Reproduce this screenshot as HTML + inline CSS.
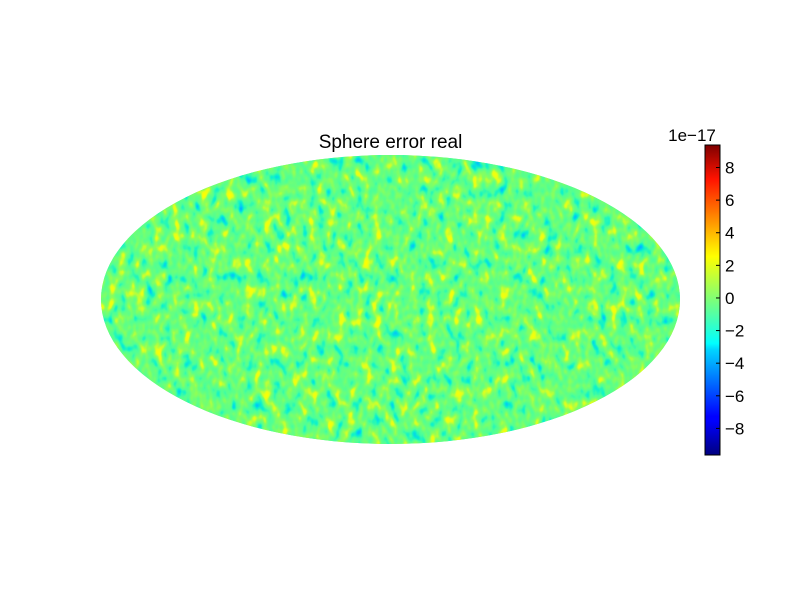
<!DOCTYPE html>
<html><head><meta charset="utf-8"><style>
body{margin:0;background:#fff;}
svg{display:block;font-family:"Liberation Sans","DejaVu Sans",sans-serif;}
</style></head><body>
<svg width="800" height="600" viewBox="0 0 800 600" xmlns="http://www.w3.org/2000/svg">
<defs>
<linearGradient id="jet" x1="0" y1="1" x2="0" y2="0">
<stop offset="0" stop-color="#00007f"/><stop offset="0.11" stop-color="#0000ff"/>
<stop offset="0.125" stop-color="#0000ff"/><stop offset="0.34" stop-color="#00d5ff"/>
<stop offset="0.36" stop-color="#0ff"/><stop offset="0.5" stop-color="#7cff79"/>
<stop offset="0.64" stop-color="#ff0"/><stop offset="0.66" stop-color="#fe0"/>
<stop offset="0.89" stop-color="#ff1300"/><stop offset="1" stop-color="#7f0000"/>
</linearGradient>
<clipPath id="ell"><ellipse cx="390.5" cy="299.5" rx="289.5" ry="144.5"/></clipPath>
<filter id="noise" x="0" y="0" width="100%" height="100%" color-interpolation-filters="sRGB">
<feTurbulence type="fractalNoise" baseFrequency="0.11 0.07" numOctaves="2" seed="7"/>
<feColorMatrix type="matrix" values="1 0 0 0 0  1 0 0 0 0  1 0 0 0 0  0 0 0 0 1"/>
<feComponentTransfer>
<feFuncR type="table" tableValues="0 0 0.05 0.3 0.4 0.55 0.9 1 1"/>
<feFuncG type="table" tableValues="0.45 0.75 0.95 1 1 1 1 1 0.9"/>
<feFuncB type="table" tableValues="1 1 0.8 0.6 0.5 0.35 0.1 0 0"/>
</feComponentTransfer>
</filter>
</defs>
<text x="390.5" y="148" font-size="19" text-anchor="middle">Sphere error real</text>
<g clip-path="url(#ell)">
<rect x="101" y="155" width="579" height="289" fill="#5fff98"/>
<rect x="101" y="155" width="579" height="289" filter="url(#noise)"/>
</g>
<rect x="705" y="145" width="15" height="310" fill="url(#jet)" stroke="#000" stroke-width="1"/>
<g id="cbticks"></g>
<text x="692" y="141" font-size="17" text-anchor="middle">1e−17</text>
<script>
const tickValues=[8,6,4,2,0,-2,-4,-6,-8];
const tickLabels=["8","6","4","2","0","−2","−4","−6","−8"];
const vmin=-9.63, vmax=9.38;
const y=v=>455-(v-vmin)/(vmax-vmin)*310;
const g=document.getElementById('cbticks');
const NS='http://www.w3.org/2000/svg';
tickValues.forEach((v,i)=>{
 const l=document.createElementNS(NS,'line');
 
 
 l.setAttribute('x1',716);l.setAttribute('x2',720);l.setAttribute('y1',y(v));l.setAttribute('y2',y(v));
 l.setAttribute('stroke','#000');g.appendChild(l);
 const t=document.createElementNS(NS,'text');
 
 
 t.setAttribute('x',725);t.setAttribute('y',y(v)+6);t.setAttribute('font-size','17');
 t.textContent=tickLabels[i];g.appendChild(t);
});
</script>
</svg>
</body></html>
